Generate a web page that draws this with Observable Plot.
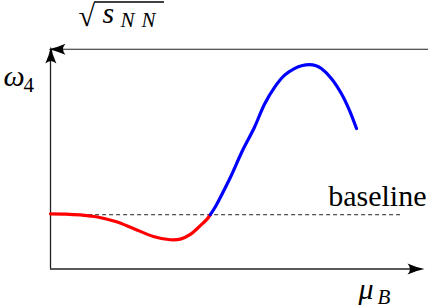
<!DOCTYPE html>
<html>
<head>
<meta charset="utf-8">
<script src="https://cdn.jsdelivr.net/npm/d3@7"></script>
<script src="https://cdn.jsdelivr.net/npm/@observablehq/plot@0.6"></script>
<style>
  html, body { margin: 0; padding: 0; background: #fff; }
  #chart svg { display: block; overflow: visible; }
</style>
</head>
<body>
<div id="chart"></div>
<script>
// ---- data (normalized units: mu_B from 0 to 1, omega_4 from 0 to 1) ----
const muRed  = [0.000, 0.041, 0.081, 0.127, 0.176, 0.224, 0.278, 0.324, 0.351, 0.378, 0.405, 0.422, 0.432];
const w4Red  = [0.249, 0.248, 0.244, 0.235, 0.214, 0.183, 0.147, 0.132, 0.135, 0.156, 0.196, 0.223, 0.245];
const muBlue = [0.432, 0.446, 0.459, 0.486, 0.519, 0.551, 0.578, 0.605, 0.632, 0.659, 0.681, 0.700, 0.716, 0.732, 0.759, 0.786, 0.808, 0.827];
const w4Blue = [0.245, 0.282, 0.323, 0.413, 0.535, 0.639, 0.743, 0.819, 0.874, 0.905, 0.919, 0.923, 0.919, 0.905, 0.860, 0.792, 0.716, 0.634];
const baselineLevel = 0.245;
const baselineSpan = [0.103, 0.946];
const labelBaseline = "baseline";
const labelY = ["ω", "4"];
const labelX = ["μ", "B"];
const labelTop = ["√", "s", "N", "N"];

const red = muRed.map((m, i) => ({mu: m, w: w4Red[i]}));
const blue = muBlue.map((m, i) => ({mu: m, w: w4Blue[i]}));

// pixel helpers for annotation placement (frame: x 50..420, y 268.5..47)
const X = px => (px - 50) / 370;
const Y = py => (268.5 - py) / 221.5;

const stealth = {
  draw(ctx) {
    ctx.moveTo(0, 0);
    ctx.quadraticCurveTo(-8, -1.5, -17, -5.5);
    ctx.quadraticCurveTo(-12, 0, -17, 5.5);
    ctx.quadraticCurveTo(-8, 1.5, 0, 0);
    ctx.closePath();
  }
};

const FONT = "Liberation Serif";
const txt = (s, px, pyBase, size, opts = {}) =>
  Plot.text([s], {
    x: X(px), y: Y(pyBase - 0.32 * size), text: d => d,
    fontSize: size, fontFamily: FONT, textAnchor: "start", fill: "#000", ...opts
  });

const axisStroke = "#222";

const chart = Plot.plot({
  width: 428,
  height: 307,
  marginLeft: 50,
  marginRight: 8,
  marginTop: 47,
  marginBottom: 38.5,
  x: {domain: [0, 1], axis: null},
  y: {domain: [0, 1], axis: null},
  style: {background: "#fff", overflow: "visible"},
  marks: [
    // axes
    Plot.ruleX([0], {y1: 0, y2: Y(56), stroke: axisStroke, strokeWidth: 1.3}),
    Plot.ruleY([0], {x1: 0, x2: X(414), stroke: axisStroke, strokeWidth: 1.3}),
    Plot.ruleY([Y(48.7)], {x1: X(58), x2: X(428), stroke: axisStroke, strokeWidth: 1.1}),
    Plot.dot([0], {x: X(424), y: 0, symbol: stealth, fill: "#000", stroke: null, rotate: 0}),
    Plot.dot([0], {x: 0.001, y: Y(46), symbol: stealth, fill: "#000", stroke: null, rotate: -90}),
    Plot.dot([0], {x: X(48), y: Y(48.7), symbol: stealth, fill: "#000", stroke: null, rotate: 180}),
    // baseline
    Plot.ruleY([baselineLevel], {x1: baselineSpan[0], x2: baselineSpan[1], stroke: "#222", strokeWidth: 1, strokeDasharray: "4,3"}),
    // curves
    Plot.line(red, {x: "mu", y: "w", stroke: "#ff0000", strokeWidth: 3.2, curve: "catmull-rom"}),
    Plot.line(blue, {x: "mu", y: "w", stroke: "#0000ff", strokeWidth: 3.2, curve: "catmull-rom"}),
    // labels
    txt(labelBaseline, 426, 205, 30, {textAnchor: "end"}),
    txt(labelY[0], 3, 85, 30, {fontStyle: "italic"}),
    txt(labelY[1], 23, 91, 21),
    txt(labelX[0], 358, 298, 30, {fontStyle: "italic"}),
    txt(labelX[1], 377, 303, 21, {fontStyle: "italic"}),
    txt(labelTop[0], 78, 25, 30),
    Plot.ruleY([Y(1.5)], {x1: X(94), x2: X(164), stroke: "#000", strokeWidth: 1.3}),
    txt(labelTop[1], 102, 22, 30, {fontStyle: "italic"}),
    txt(labelTop[2], 120, 26, 21, {fontStyle: "italic"}),
    txt(labelTop[3], 141, 26, 21, {fontStyle: "italic"})
  ]
});

d3.select(chart).selectAll("text").style("font-family", "'Liberation Serif', 'Times New Roman', serif");
document.getElementById("chart").appendChild(chart);
</script>
</body>
</html>
